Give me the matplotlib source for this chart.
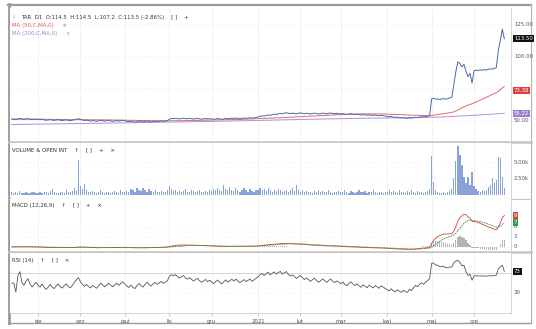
import numpy as np
import pandas as pd
import matplotlib
matplotlib.use("Agg")
import matplotlib.pyplot as plt

# ---------------------------------------------------------------------------
# Data (daily closes and volumes, one list per month)
# ---------------------------------------------------------------------------
close_jul20 = [50.6, 50.8, 50.4, 50.9, 51.2, 50.7, 50.5, 50.8, 51.0, 50.6, 50.3, 50.5, 50.7]
close_aug20 = [50.4, 50.2, 50.5, 50.1, 49.8, 50.0, 50.3, 49.9, 49.7, 50.0, 50.2, 49.8, 49.6, 49.9,
               50.1, 49.7, 49.5, 49.8, 50.2, 50.6, 51.0]
close_sep20 = [50.4, 50.0, 49.6, 49.9, 49.5, 49.2, 49.6, 49.3, 49.0, 49.4, 49.8, 49.5, 49.1, 49.4,
               49.7, 49.3, 49.0, 49.3, 49.6, 49.2, 49.5, 49.8]
close_oct20 = [49.4, 49.0, 48.7, 49.1, 48.6, 48.3, 48.8, 49.2, 48.7, 48.4, 48.9, 49.3, 48.8, 48.5,
               48.9, 49.2, 48.8, 49.1, 49.4, 49.0, 49.3, 49.5]
close_nov20 = [50.6, 51.2, 51.0, 51.4, 51.1, 50.8, 51.2, 51.5, 51.1, 50.9, 51.3, 51.0, 50.7, 51.0,
               51.3, 50.9, 50.6, 50.9, 51.2, 50.8, 51.1]
close_dec20 = [50.8, 50.5, 50.9, 51.2, 50.8, 50.5, 50.9, 51.3, 50.9, 51.2, 51.5, 51.2, 51.6, 51.3,
               51.0, 51.3, 51.6, 51.3, 51.5, 51.8, 51.4, 51.7, 52.0]
close_jan21 = [52.4, 52.9, 53.3, 53.0, 53.5, 54.0, 53.6, 54.2, 54.6, 54.3, 54.8, 55.2, 54.8, 55.3,
               55.7, 55.3, 55.0, 55.4, 55.1, 54.8, 55.2]
close_feb21 = [55.6, 55.2, 54.9, 55.3, 55.0, 54.7, 55.1, 55.4, 55.0, 54.7, 55.0, 55.4, 55.1, 54.8,
               55.2, 55.5, 55.1, 54.9, 55.2, 55.0]
close_mar21 = [54.7, 55.0, 54.6, 54.3, 54.7, 55.0, 54.6, 54.3, 54.6, 54.2, 53.9, 54.3, 54.0, 53.7,
               54.1, 53.8, 53.5, 53.9, 53.6, 53.3, 53.7, 53.4, 53.1]
close_apr21 = [52.8, 52.5, 52.8, 52.3, 52.0, 52.3, 51.9, 51.6, 51.9, 51.5, 51.3, 51.7, 51.4, 51.8,
               52.2, 51.9, 52.3, 52.6, 52.3, 52.7, 53.0, 53.4]
close_may21 = [66.5, 67.0, 66.2, 66.6, 66.0, 66.4, 66.8, 66.3, 66.7, 67.2, 67.8, 78.0, 88.0, 95.5,
               94.0, 91.5, 93.5, 88.0, 84.0, 86.5, 79.0]
close_jun21 = [88.5, 89.0, 88.6, 89.2, 88.8, 89.4, 89.0, 89.6, 90.0, 89.7, 90.3, 90.8, 104.0, 112.0,
               121.0, 113.5]

vol_jul20 = [400, 300, 500, 350, 600, 300, 250, 450, 350, 300, 500, 400, 350]
vol_aug20 = [300, 450, 350, 500, 400, 300, 600, 900, 450, 350, 300, 500, 400, 350, 700, 450, 400,
             600, 1100, 800, 5300]
vol_sep20 = [1400, 900, 1700, 700, 500, 400, 600, 450, 350, 500, 700, 400, 350, 500, 450, 300, 400,
             650, 500, 350, 800, 450]
vol_oct20 = [500, 600, 450, 900, 700, 500, 1000, 800, 600, 1100, 700, 500, 900, 600, 450, 800, 500,
             400, 600, 450, 500, 700]
vol_nov20 = [1300, 900, 600, 800, 500, 700, 450, 600, 900, 500, 400, 700, 550, 450, 600, 800, 500,
             400, 650, 500, 700]
vol_dec20 = [600, 900, 700, 1100, 800, 600, 1500, 900, 700, 1200, 800, 600, 1000, 700, 500, 800,
             1100, 700, 500, 900, 600, 400, 700]
vol_jan21 = [800, 1100, 700, 900, 600, 1000, 700, 500, 800, 600, 900, 700, 500, 600, 800, 500, 700,
             1000, 600, 1500, 700]
vol_feb21 = [500, 700, 400, 600, 450, 500, 350, 600, 400, 700, 450, 600, 400, 500, 700, 450, 350,
             500, 400, 600]
vol_mar21 = [500, 400, 700, 450, 350, 600, 400, 300, 500, 750, 450, 400, 600, 350, 500, 400, 700,
             450, 350, 500, 400, 300, 450]
vol_apr21 = [500, 700, 400, 600, 450, 350, 800, 500, 400, 300, 550, 400, 700, 450, 350, 600, 400,
             500, 300, 450, 600, 900]
vol_may21 = [5900, 2000, 800, 500, 350, 300, 450, 300, 400, 600, 900, 2600, 5200, 7400, 6000, 4600,
             2700, 1800, 2700, 1500, 3500]
vol_jun21 = [1300, 900, 600, 500, 700, 600, 800, 1200, 1500, 2600, 1800, 2300, 5700, 5600, 2800, 1000]

ma200_dates = ["2020-07-15", "2020-08-17", "2020-09-21", "2020-10-23", "2020-11-30", "2021-01-04",
               "2021-02-08", "2021-03-12", "2021-04-16", "2021-05-07", "2021-05-28", "2021-06-22"]
ma200_vals = [46.5, 47.0, 47.6, 48.2, 48.9, 49.7, 50.6, 51.3, 51.8, 52.3, 53.5, 55.2]

month_labels = ["sie", "wrz", "paź", "lis", "gru", "2021", "lut", "mar", "kwi", "maj", "cze"]

header = "TAR  D1  O:114.5  H:114.5  L:107.2  C:113.5 (-2.86%)"
last_close_txt = "113.50"
ma50_txt, ma50_last = "73.38", 73.38
ma200_txt, ma200_last = "55.22", 55.22

# ---------------------------------------------------------------------------
# Assemble series + indicators
# ---------------------------------------------------------------------------
dates = pd.bdate_range("2020-07-15", "2021-06-22")
close = pd.Series(close_jul20 + close_aug20 + close_sep20 + close_oct20 + close_nov20 + close_dec20
                  + close_jan21 + close_feb21 + close_mar21 + close_apr21 + close_may21 + close_jun21)
volume = np.array(vol_jul20 + vol_aug20 + vol_sep20 + vol_oct20 + vol_nov20 + vol_dec20 + vol_jan21
                  + vol_feb21 + vol_mar21 + vol_apr21 + vol_may21 + vol_jun21)
assert len(close) == len(dates) == len(volume), (len(close), len(dates), len(volume))
idx = np.arange(len(close))

ma50 = close.rolling(50, min_periods=1).mean()
ma200_x = dates.searchsorted(pd.to_datetime(ma200_dates))

ema12 = close.ewm(span=12, adjust=False).mean()
ema26 = close.ewm(span=26, adjust=False).mean()
macd = ema12 - ema26
signal = macd.ewm(span=9, adjust=False).mean()
hist = macd - signal

delta = close.diff().fillna(0)
gain = delta.clip(lower=0).ewm(alpha=1 / 14, adjust=False).mean()
loss = (-delta.clip(upper=0)).ewm(alpha=1 / 14, adjust=False).mean()
rsi = 100 - 100 / (1 + gain / loss.replace(0, np.nan))
rsi = rsi.fillna(50)

month_starts = [i for i in range(1, len(dates)) if dates[i].month != dates[i - 1].month]

# ---------------------------------------------------------------------------
# Layout in pixels
# ---------------------------------------------------------------------------
W, H = 536, 329
fig = plt.figure(figsize=(W / 100, H / 100), dpi=100)
plt.rcParams["font.family"] = "DejaVu Sans"


def rect(x0, y0, x1, y1):
    return [x0 / W, 1 - y1 / H, (x1 - x0) / W, (y1 - y0) / H]


X0, X1 = 10, 511
ax_p = fig.add_axes(rect(X0, 8, X1, 141))
ax_v = fig.add_axes(rect(X0, 143, X1, 198), sharex=ax_p)
ax_m = fig.add_axes(rect(X0, 199, X1, 251), sharex=ax_p)
ax_r = fig.add_axes(rect(X0, 253, X1, 313), sharex=ax_p)
axes = [ax_p, ax_v, ax_m, ax_r]

FS = 3.9
GRID = "#ececec"
TXT = "#555555"

for ax in axes:
    ax.set_xlim(-0.9, 247.3)
    for s in ["top", "left", "bottom"]:
        ax.spines[s].set_visible(False)
    ax.spines["right"].set_color("#cfcfcf")
    ax.spines["right"].set_linewidth(0.6)
    ax.tick_params(left=False, right=False, labelleft=False, labelright=False,
                   bottom=False, labelbottom=False)
    for m in month_starts:
        ax.axvline(m, color=GRID, lw=0.5, zorder=0)
    ax.set_yticks([])

# x ticks on the bottom panel
ax_r.set_xticks(month_starts)
ax_r.set_xticklabels(month_labels)
ax_r.tick_params(bottom=True, labelbottom=True, length=2, width=0.4, color="#999999",
                 labelsize=FS, labelcolor=TXT, pad=2)
ax_r.spines["bottom"].set_visible(True)
ax_r.spines["bottom"].set_color("#cfcfcf")
ax_r.spines["bottom"].set_linewidth(0.6)


def right_label(ax, y, txt, color=TXT, box=None):
    kw = dict(transform=ax.get_yaxis_transform(), fontsize=FS, va="center", ha="left",
              color=color, clip_on=False)
    if box is not None:
        kw["bbox"] = dict(boxstyle="square,pad=0.18", fc=box, ec="none")
    ax.text(1.006, y, txt, **kw)


# --- price panel -----------------------------------------------------------
ax_p.set_ylim(33.6, 137.5)
for lv in [50, 75, 100, 125]:
    ax_p.axhline(lv, color=GRID, lw=0.5, ls=(0, (1, 1.5)), zorder=0)
ax_p.plot(idx, close, color="#4a68b0", lw=0.7, zorder=3)
ax_p.plot(idx, ma50, color="#e06a6a", lw=0.7, zorder=2)
ax_p.plot(ma200_x, ma200_vals, color="#a794d8", lw=0.7, zorder=2)
for lv in [125, 100, 50]:
    right_label(ax_p, lv, f"{lv:.2f}")
right_label(ax_p, 113.5, last_close_txt, "white", "#111111")
right_label(ax_p, ma50_last, ma50_txt, "white", "#e0413a")
right_label(ax_p, ma200_last, ma200_txt, "white", "#9a7fd0")

ax_p.text(0.004, 0.93, "⁞⁞", transform=ax_p.transAxes, fontsize=FS, color="#aaaaaa", va="center")
ax_p.text(0.022, 0.93, header + "    [ ]    +", transform=ax_p.transAxes, fontsize=FS,
          color="#333333", va="center")
ax_p.text(0.004, 0.87, "MA (50,C,MA,0)     ×", transform=ax_p.transAxes, fontsize=FS,
          color="#e05a5a", va="center")
ax_p.text(0.004, 0.81, "MA (200,C,MA,0)     ×", transform=ax_p.transAxes, fontsize=FS,
          color="#9a88cc", va="center")

# --- volume panel ----------------------------------------------------------
ax_v.set_ylim(-450, 7880)
for lv in [2500, 5000]:
    ax_v.axhline(lv, color=GRID, lw=0.5, ls=(0, (1, 1.5)), zorder=0)
ax_v.bar(idx, volume, width=0.6, color="#8aa2d8", zorder=2)
right_label(ax_v, 5000, "5.00k")
right_label(ax_v, 2500, "2.50k")
ax_v.text(0.004, 0.88, "VOLUME & OPEN INT    ↑    [ ]    +    ×", transform=ax_v.transAxes,
          fontsize=FS, color="#333333", va="center")

# --- MACD panel ------------------------------------------------------------
ax_m.set_ylim(-1.2, 14.1)
for lv in [0, 3, 6]:
    ax_m.axhline(lv, color=GRID, lw=0.5, ls=(0, (1, 1.5)), zorder=0)
ax_m.bar(idx, hist, width=0.6, color="#b4b4b4", zorder=2)
ax_m.plot(idx, macd, color="#e0403a", lw=0.6, zorder=3)
ax_m.plot(idx, signal, color="#2f8f3a", lw=0.6, ls=(0, (2, 1)), zorder=3)
for lv in [0, 3, 6]:
    right_label(ax_m, lv, f"{lv}")
right_label(ax_m, macd.iloc[-1], f"{macd.iloc[-1]:.0f}", "white", "#e0413a")
right_label(ax_m, signal.iloc[-1], f"{signal.iloc[-1]:.0f}", "white", "#2f9a40")
ax_m.text(0.004, 0.88, "MACD (12,26,9)    ↑    [ ]    +    ×", transform=ax_m.transAxes,
          fontsize=FS, color="#333333", va="center")

# --- RSI panel -------------------------------------------------------------
ax_r.set_ylim(-10, 110)
ax_r.axhline(70, color="#cfcfcf", lw=0.6, zorder=0)
ax_r.axhline(30, color=GRID, lw=0.5, ls=(0, (1, 1.5)), zorder=0)
ax_r.plot(idx, rsi, color="#555555", lw=0.6, zorder=3)
right_label(ax_r, 30, "30")
right_label(ax_r, rsi.iloc[-1], f"{rsi.iloc[-1]:.0f}", "white", "#111111")
ax_r.text(0.004, 0.88, "RSI (14)    ↑    [ ]    ×", transform=ax_r.transAxes,
          fontsize=FS, color="#333333", va="center")

# --- frame and panel separators -------------------------------------------
frame = fig.add_axes([0, 0, 1, 1], zorder=-1)
frame.set_xlim(0, W)
frame.set_ylim(H, 0)
frame.axis("off")
frame.plot([8.5, 8.5], [4, 323], color="#9a9a9a", lw=2.0)
frame.plot([8, 531], [4.5, 4.5], color="#9a9a9a", lw=1.6)
frame.plot([531, 531], [4, 323], color="#b5b5b5", lw=0.8)
frame.plot([8, 531], [323, 323], color="#9a9a9a", lw=1.0)
for yy, lw in [(142, 1.8), (198.5, 0.8), (252, 1.8)]:
    frame.plot([9, 531], [yy, yy], color="#c4c4c4", lw=lw)

fig.savefig("out.png", dpi=100)
print(macd.iloc[-1], signal.iloc[-1], rsi.iloc[-1], ma50.iloc[-1])
